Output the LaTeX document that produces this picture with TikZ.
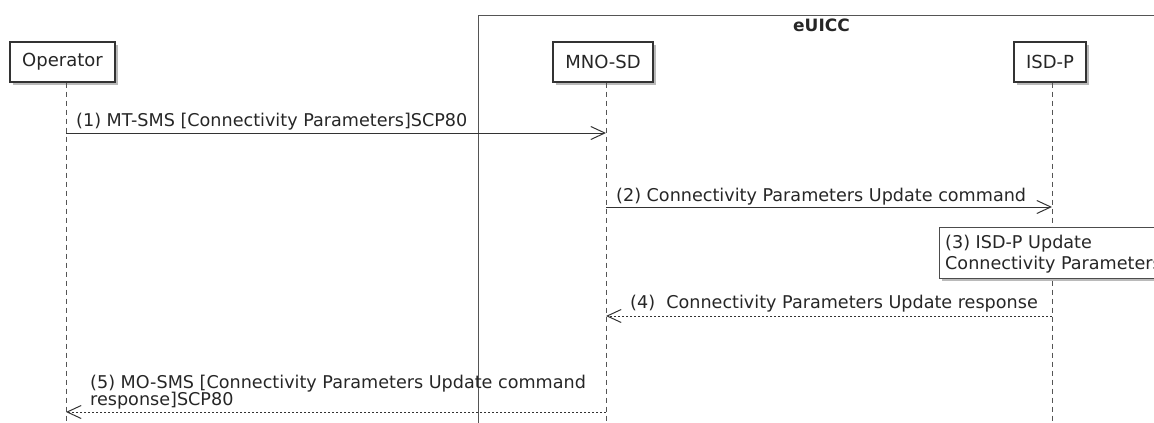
\documentclass[tikz,border=0pt]{standalone}
\usepackage{fontspec}
\setmainfont{DejaVu Sans}
\usetikzlibrary{arrows.meta,shadows}
\definecolor{lineclr}{HTML}{555555}
\tikzset{
  participant/.style={draw=black!80, line width=1.3pt, fill=white, inner sep=0pt,
    minimum height=40pt, font=\fontsize{18}{20}\selectfont, text=black!85,
    drop shadow={shadow xshift=3pt, shadow yshift=-3pt, fill=black!45, opacity=0.6}},
  lifeline/.style={draw=lineclr, line width=0.9pt, dash pattern=on 5pt off 4pt},
  msglabel/.style={anchor=base west, inner sep=0pt, font=\fontsize{17.6}{19}\selectfont, text=black!85},
  msg/.style={draw=black!80, line width=1pt, -{Straight Barb[length=14pt,width=13pt,line width=1pt]}},
  reply/.style={draw=black!80, line width=1pt, dash pattern=on 2pt off 2pt,
    -{Straight Barb[length=14pt,width=13pt,line width=1pt]}},
  framebox/.style={draw=lineclr, line width=1pt},
  notebox/.style={draw=black!70, line width=1pt, fill=white,
    drop shadow={shadow xshift=3pt, shadow yshift=-3pt, fill=black!45, opacity=0.6}}
}
\begin{document}
\begin{tikzpicture}[x=1pt,y=-1pt]
\useasboundingbox (0,0) rectangle (1154,423);
% eUICC frame
\draw[framebox] (478,440) -- (478,15) -- (1170,15);
\node[font=\bfseries\fontsize{17}{19}\selectfont, anchor=base, inner sep=0pt, text=black!85] (euicc) at (821.5,31) {eUICC};
% participants
\node[participant, minimum width=105pt] (op) at (62.5,62) {Operator};
\node[participant, minimum width=100pt] (mno) at (603,62) {MNO-SD};
\node[participant, minimum width=72pt] (isd) at (1050,62) {ISD-P};
% lifeline ends
\coordinate (opend) at (66,430);
\coordinate (mnoend) at (606,430);
\coordinate (isdend) at (1052,430);
\draw[lifeline] (op.south -| opend) -- (opend);
\draw[lifeline] (mno.south -| mnoend) -- (mnoend);
\draw[lifeline] (isd.south -| isdend) -- (isdend);
% message anchor points
\coordinate (m1a) at (66,133);  \coordinate (m1b) at (606,133);
\coordinate (m2a) at (606,207); \coordinate (m2b) at (1052,207);
\coordinate (m4a) at (1052,316); \coordinate (m4b) at (606,316);
\coordinate (m5a) at (606,412); \coordinate (m5b) at (66,412);
% (1)
\draw[msg] (m1a) -- (m1b);
\node[msglabel] (l1) at (76,126) {(1) MT-SMS [Connectivity Parameters]SCP80};
% (2)
\draw[msg] (m2a) -- (m2b);
\node[msglabel] (l2) at (616,201) {(2) Connectivity Parameters Update command};
% (3) note
\draw[notebox] (939,227) rectangle (1170,278);
\node[msglabel] (n3a) at (945,248) {(3) ISD-P Update};
\node[msglabel] (n3b) at (945,269) {Connectivity Parameters};
% (4)
\draw[reply] (m4a) -- (m4b);
\node[msglabel] (l4) at (630,308) {(4)\ \ Connectivity Parameters Update response};
% (5)
\draw[reply] (m5a) -- (m5b);
\node[msglabel] (l5a) at (90,388) {(5) MO-SMS [Connectivity Parameters Update command};
\node[msglabel] (l5b) at (90,405) {response]SCP80};
\end{tikzpicture}
\end{document}
